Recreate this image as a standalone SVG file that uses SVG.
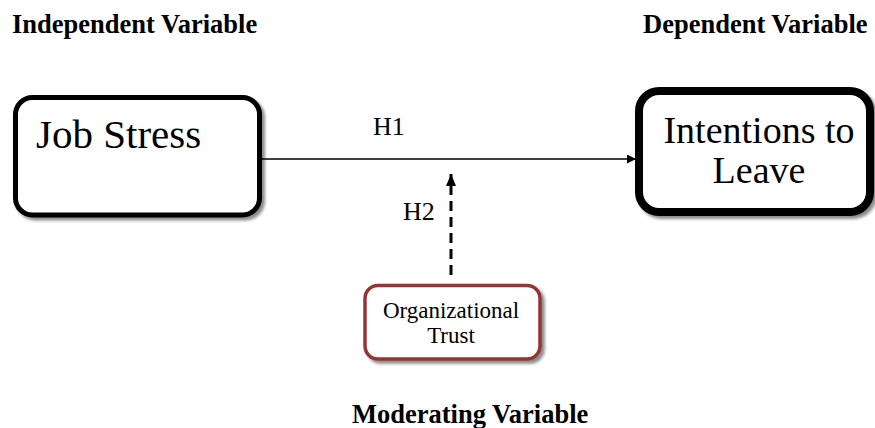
<svg xmlns="http://www.w3.org/2000/svg" width="875" height="428" viewBox="0 0 875 428">
  <style>
    text { font-family: "Liberation Serif", "Times New Roman", "DejaVu Serif", serif; fill: #000; }
    .hdr { font-size: 26.5px; font-weight: bold; }
    .big { font-size: 41px; }
    .lbl { font-size: 26px; }
    .small { font-size: 23px; text-anchor: middle; }
    .box { fill: #fff; stroke: #000; }
  </style>
  <defs>
    <filter id="sh" x="-10%" y="-10%" width="125%" height="130%">
      <feDropShadow dx="3" dy="3" stdDeviation="1.5" flood-color="#000" flood-opacity="0.45"/>
    </filter>
    <marker id="ah" markerWidth="10" markerHeight="10" refX="9" refY="4.5" orient="auto" markerUnits="userSpaceOnUse">
      <path d="M0,0 L9,4.5 L0,9 Z" fill="#000"/>
    </marker>
    <marker id="ah2" markerWidth="12" markerHeight="14" refX="12" refY="5" orient="auto" markerUnits="userSpaceOnUse">
      <path d="M0,0 L12,5 L0,10 Z" fill="#000"/>
    </marker>
  </defs>

  <g id="hdr-independent"><text class="hdr" x="12" y="33">Independent Variable</text></g>
  <g id="hdr-dependent"><text class="hdr" x="643" y="33">Dependent Variable</text></g>
  <g id="hdr-moderating"><text class="hdr" x="352" y="423">Moderating Variable</text></g>

  <g id="connectors">
    <line x1="262" y1="159" x2="636" y2="159" stroke="#000" stroke-width="1.5" marker-end="url(#ah)"/>
    <line x1="451" y1="275" x2="451" y2="174" stroke="#000" stroke-width="3" stroke-dasharray="10,6" marker-end="url(#ah2)"/>
    <text class="lbl" x="373" y="135">H1</text>
    <text class="lbl" x="403" y="220">H2</text>
  </g>

  <g id="job-stress">
    <rect class="box" x="15.5" y="97.5" width="244" height="117.5" rx="17" stroke-width="5" filter="url(#sh)"/>
    <text class="big" x="36" y="148">Job Stress</text>
  </g>

  <g id="intentions">
    <rect class="box" x="639" y="91" width="231" height="121" rx="20" stroke-width="8" filter="url(#sh)"/>
    <text class="big" x="759" y="143" text-anchor="middle" style="font-size:38px">Intentions to</text>
    <text class="big" x="759" y="183" text-anchor="middle" style="font-size:38px">Leave</text>
  </g>

  <g id="org-trust">
    <rect x="365" y="285.5" width="175" height="73.5" rx="13" fill="#fff" stroke="#943634" stroke-width="3.5" filter="url(#sh)"/>
    <text class="small" x="451" y="318">Organizational</text>
    <text class="small" x="451" y="343">Trust</text>
  </g>
</svg>
